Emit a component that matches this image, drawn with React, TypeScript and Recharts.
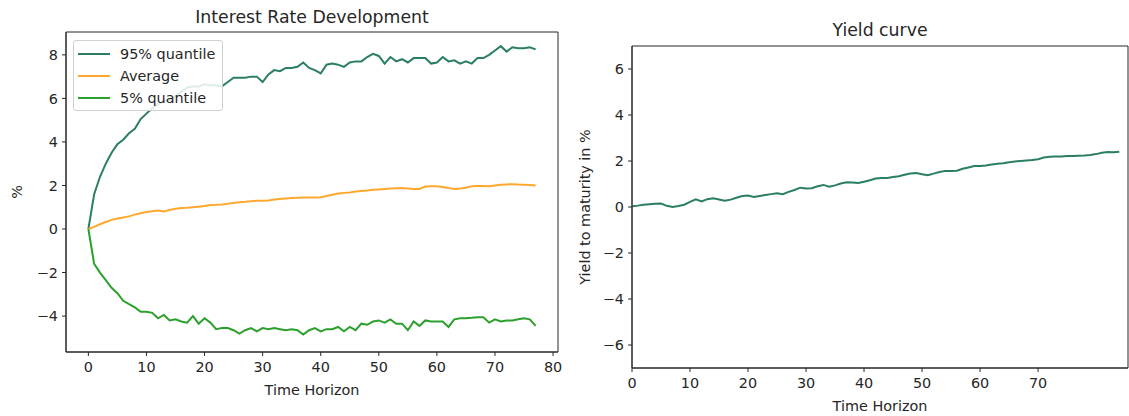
import React from 'react';
import { LineChart, Line, XAxis, YAxis, Legend, ReferenceArea } from 'recharts';

const FONT = "'DejaVu Sans', 'Liberation Sans', sans-serif";
const INK = '#262626';
const TEAL = '#2a7f62';
const ORANGE = '#ffa82e';
const GREEN = '#2ca02c';
const FS = 14.4;
const TITLE_FS = 17.3;

// ---- Left chart data ----
const timeHorizon: number[] = Array.from({ length: 78 }, (_, i) => i);
const quantile95: number[] = [
  0, 1.6, 2.4, 3.0, 3.5, 3.9, 4.1, 4.4, 4.6, 5.05,
  5.3, 5.55, 5.75, 5.85, 5.95, 6.1, 6.3, 6.5, 6.55, 6.55,
  6.65, 6.6, 6.6, 6.55, 6.75, 6.95, 6.95, 6.95, 7.0, 7.0,
  6.75, 7.1, 7.3, 7.25, 7.4, 7.4, 7.45, 7.65, 7.4, 7.3,
  7.15, 7.55, 7.6, 7.55, 7.45, 7.65, 7.7, 7.7, 7.9, 8.05,
  7.95, 7.6, 7.9, 7.7, 7.8, 7.65, 7.85, 7.85, 7.85, 7.6,
  7.65, 7.9, 7.7, 7.75, 7.6, 7.7, 7.6, 7.85, 7.85, 8.0,
  8.2, 8.4, 8.15, 8.35, 8.3, 8.3, 8.35, 8.25,
];
const average: number[] = [
  0, 0.1, 0.22, 0.32, 0.42, 0.48, 0.53, 0.58, 0.66, 0.72,
  0.78, 0.82, 0.85, 0.8, 0.87, 0.93, 0.97, 0.98, 1.0, 1.02,
  1.06, 1.1, 1.11, 1.13, 1.16, 1.2, 1.23, 1.25, 1.28, 1.3,
  1.3, 1.31, 1.36, 1.38, 1.4, 1.42, 1.44, 1.45, 1.45, 1.45,
  1.46, 1.52, 1.57, 1.63, 1.66, 1.68, 1.72, 1.75, 1.77, 1.8,
  1.82, 1.84, 1.86, 1.87, 1.88, 1.86, 1.84, 1.84, 1.95, 1.96,
  1.96, 1.93, 1.88, 1.84, 1.86, 1.9, 1.96, 1.98, 1.98, 1.96,
  2.0, 2.03, 2.05, 2.06, 2.04, 2.03, 2.02, 2.0,
];
const quantile5: number[] = [
  0, -1.6, -2.0, -2.35, -2.7, -2.95, -3.3, -3.45, -3.6, -3.8,
  -3.8, -3.85, -4.1, -3.95, -4.2, -4.15, -4.25, -4.3, -4.0, -4.35,
  -4.1, -4.3, -4.6, -4.55, -4.55, -4.65, -4.8, -4.65, -4.55, -4.7,
  -4.55, -4.6, -4.55, -4.6, -4.65, -4.6, -4.65, -4.85, -4.65, -4.55,
  -4.7, -4.6, -4.6, -4.5, -4.7, -4.5, -4.65, -4.35, -4.4, -4.25,
  -4.2, -4.3, -4.15, -4.35, -4.35, -4.65, -4.25, -4.45, -4.2, -4.25,
  -4.25, -4.25, -4.5, -4.15, -4.1, -4.1, -4.08, -4.05, -4.05, -4.3,
  -4.15, -4.25, -4.2, -4.2, -4.15, -4.1, -4.15, -4.45,
];
const seriesNames: string[] = ['95% quantile', 'Average', '5% quantile'];
const leftXTicks: number[] = [0, 10, 20, 30, 40, 50, 60, 70, 80];
const leftYTicks: number[] = [-4, -2, 0, 2, 4, 6, 8];

// ---- Right chart data ----
const maturity: number[] = Array.from({ length: 85 }, (_, i) => i);
const yieldToMaturity: number[] = [
  0.03, 0.06, 0.1, 0.12, 0.14, 0.15, 0.05, 0.0, 0.04, 0.1,
  0.22, 0.33, 0.24, 0.34, 0.38, 0.33, 0.27, 0.32, 0.4, 0.48,
  0.5, 0.44, 0.48, 0.52, 0.56, 0.6, 0.56, 0.66, 0.74, 0.84,
  0.8, 0.82, 0.9, 0.96, 0.88, 0.94, 1.02, 1.08, 1.06, 1.04,
  1.1, 1.16, 1.24, 1.26, 1.26, 1.3, 1.34, 1.4, 1.46, 1.48,
  1.42, 1.38, 1.45, 1.52, 1.57, 1.57, 1.58, 1.66, 1.72, 1.78,
  1.78, 1.8, 1.85, 1.88, 1.9, 1.95, 1.98, 2.0, 2.02, 2.04,
  2.08, 2.15, 2.18, 2.2, 2.2, 2.22, 2.22, 2.23, 2.24, 2.26,
  2.3, 2.36, 2.39, 2.38, 2.4,
];
const rightXTicks: number[] = [0, 10, 20, 30, 40, 50, 60, 70];
const rightYTicks: number[] = [-6, -4, -2, 0, 2, 4, 6];

const leftRows = timeHorizon.map((t, i) => ({ t, q95: quantile95[i], avg: average[i], q5: quantile5[i] }));
const rightRows = maturity.map((t, i) => ({ t, y: yieldToMaturity[i] }));

const fmt = (v: number) => (v < 0 ? `\u2212${Math.abs(v)}` : `${v}`);
const tickStyle = { fill: INK, fontSize: FS, fontFamily: FONT };

const xTitle = (text: string) => (props: any) => {
  const vb = props.viewBox || {};
  return (
    <text x={vb.x + vb.width / 2} y={vb.y + 43} textAnchor="middle" fill={INK} fontSize={FS} fontFamily={FONT}>
      {text}
    </text>
  );
};
const yTitle = (text: string, x: number) => (props: any) => {
  const vb = props.viewBox || {};
  const cy = vb.y + vb.height / 2;
  return (
    <text x={x} y={cy} textAnchor="middle" dominantBaseline="central" transform={`rotate(-90, ${x}, ${cy})`} fill={INK} fontSize={FS} fontFamily={FONT}>
      {text}
    </text>
  );
};

const renderLegend = (props: any) => {
  const payload = [...(props.payload || [])].sort(
    (a: any, b: any) => seriesNames.indexOf(a.value) - seriesNames.indexOf(b.value)
  );
  return (
    <div style={{ boxSizing: 'border-box', background: 'rgba(255,255,255,0.85)', border: '1px solid #d0d0d0', borderRadius: 3, padding: '2px 4px 1px 4px', fontFamily: FONT, fontSize: FS, color: INK, width: 150 }}>
      {payload.map((p: any) => (
        <div key={p.value} style={{ display: 'flex', alignItems: 'center', height: 22 }}>
          <svg width={32} height={4} style={{ display: 'block', flex: 'none' }}>
            <line x1={0} y1={2} x2={32} y2={2} stroke={p.color} strokeWidth={2} />
          </svg>
          <span style={{ marginLeft: 10, whiteSpace: 'nowrap' }}>{p.value}</span>
        </div>
      ))}
    </div>
  );
};

export default function App() {
  const leftX: [number, number] = [-3.85, 80.85];
  const leftY: [number, number] = [-5.65, 9.05];
  const rightX: [number, number] = [0, 85.5];
  const rightY: [number, number] = [-7, 7];
  return (
    <div style={{ position: 'absolute', left: 0, top: 0, width: 1129, height: 416, background: '#fff', fontFamily: FONT, overflow: 'hidden' }}>
      <div style={{ position: 'absolute', left: 112, width: 400, top: 6, textAlign: 'center', fontSize: TITLE_FS, color: INK, lineHeight: '22px' }}>
        Interest Rate Development
      </div>
      <div style={{ position: 'absolute', left: 680, width: 400, top: 19, textAlign: 'center', fontSize: TITLE_FS, color: INK, lineHeight: '22px' }}>
        Yield curve
      </div>

      <div style={{ position: 'absolute', left: 0, top: 0 }}>
        <LineChart width={570} height={416} data={leftRows} margin={{ top: 32, right: 12, bottom: 24, left: 6 }}>
          <XAxis dataKey="t" type="number" domain={leftX} ticks={leftXTicks} allowDataOverflow
            height={40} tick={tickStyle} tickSize={4} tickMargin={6}
            tickLine={{ stroke: INK }} axisLine={{ stroke: INK }} label={xTitle('Time Horizon')} />
          <YAxis type="number" domain={leftY} ticks={leftYTicks} allowDataOverflow width={60}
            tick={tickStyle} tickSize={4} tickMargin={4} tickFormatter={fmt}
            tickLine={{ stroke: INK }} axisLine={{ stroke: INK }} label={yTitle('%', 17)} />
          <ReferenceArea x1={leftX[0]} x2={leftX[1]} y1={leftY[0]} y2={leftY[1]} fill="none" fillOpacity={0} stroke={INK} strokeWidth={1} ifOverflow="visible" />
          <Legend layout="vertical" align="center" verticalAlign="middle" content={renderLegend} itemSorter={null as any}
            wrapperStyle={{ position: 'absolute', left: 73, top: 40, width: 150, height: 70 }} />
          <Line name="95% quantile" dataKey="q95" stroke={TEAL} strokeWidth={2} dot={false} isAnimationActive={false} />
          <Line name="Average" dataKey="avg" stroke={ORANGE} strokeWidth={2} dot={false} isAnimationActive={false} />
          <Line name="5% quantile" dataKey="q5" stroke={GREEN} strokeWidth={2} dot={false} isAnimationActive={false} />
        </LineChart>
      </div>

      <div style={{ position: 'absolute', left: 570, top: 0 }}>
        <LineChart width={559} height={416} data={rightRows} margin={{ top: 46, right: 1, bottom: 8, left: 2 }}>
          <XAxis dataKey="t" type="number" domain={rightX} ticks={rightXTicks} allowDataOverflow
            height={40} tick={tickStyle} tickSize={4} tickMargin={6}
            tickLine={{ stroke: INK }} axisLine={{ stroke: INK }} label={xTitle('Time Horizon')} />
          <YAxis type="number" domain={rightY} ticks={rightYTicks} allowDataOverflow width={60}
            tick={tickStyle} tickSize={4} tickMargin={4} tickFormatter={fmt}
            tickLine={{ stroke: INK }} axisLine={{ stroke: INK }} label={yTitle('Yield to maturity in %', 15)} />
          <ReferenceArea x1={rightX[0]} x2={rightX[1]} y1={rightY[0]} y2={rightY[1]} fill="none" fillOpacity={0} stroke={INK} strokeWidth={1} ifOverflow="visible" />
          <Line name="Yield curve" dataKey="y" stroke={TEAL} strokeWidth={2} dot={false} isAnimationActive={false} />
        </LineChart>
      </div>
    </div>
  );
}
